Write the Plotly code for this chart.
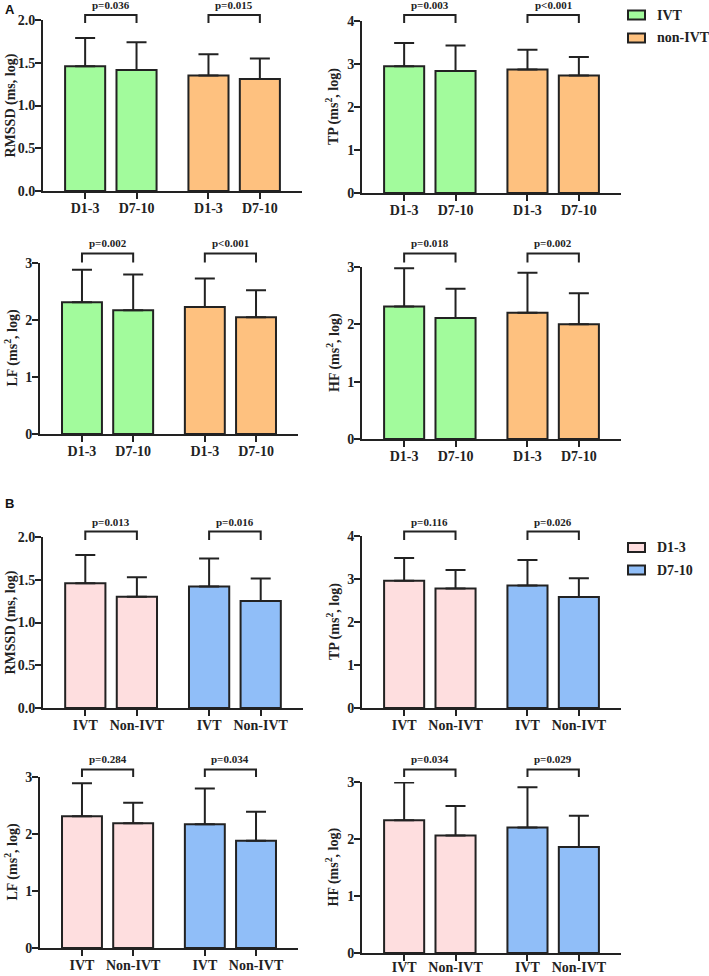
import plotly.graph_objects as go

W, H = 709, 976
SERIF = "Liberation Serif, Times New Roman, serif"
INK = "#222222"

# ---- panel A: IVT vs non-IVT, compared over time ----
a_ticks = ["D1-3", "D7-10"]
a_groups = ["IVT", "non-IVT"]
a_colors = ["#A2FB9C", "#FEC17F"]

a_rmssd_ivt = [1.46, 1.415]
a_rmssd_ivt_sd = [0.33, 0.325]
a_rmssd_non = [1.35, 1.31]
a_rmssd_non_sd = [0.25, 0.24]

a_tp_ivt = [2.95, 2.84]
a_tp_ivt_sd = [0.54, 0.59]
a_tp_non = [2.87, 2.73]
a_tp_non_sd = [0.46, 0.43]

a_lf_ivt = [2.31, 2.17]
a_lf_ivt_sd = [0.57, 0.63]
a_lf_non = [2.23, 2.05]
a_lf_non_sd = [0.50, 0.47]

a_hf_ivt = [2.31, 2.11]
a_hf_ivt_sd = [0.67, 0.51]
a_hf_non = [2.20, 2.00]
a_hf_non_sd = [0.70, 0.54]

a_pvals = [["p=0.036", "p=0.015"], ["p=0.003", "p<0.001"],
           ["p=0.002", "p<0.001"], ["p=0.018", "p=0.002"]]

# ---- panel B: D1-3 vs D7-10, compared between groups ----
b_ticks = ["IVT", "Non-IVT"]
b_groups = ["D1-3", "D7-10"]
b_colors = ["#FEDEDF", "#90BEF8"]

b_rmssd_d13 = [1.46, 1.30]
b_rmssd_d13_sd = [0.33, 0.23]
b_rmssd_d710 = [1.42, 1.25]
b_rmssd_d710_sd = [0.33, 0.265]

b_tp_d13 = [2.96, 2.78]
b_tp_d13_sd = [0.53, 0.43]
b_tp_d710 = [2.85, 2.58]
b_tp_d710_sd = [0.59, 0.44]

b_lf_d13 = [2.31, 2.19]
b_lf_d13_sd = [0.58, 0.36]
b_lf_d710 = [2.17, 1.88]
b_lf_d710_sd = [0.63, 0.51]

b_hf_d13 = [2.33, 2.06]
b_hf_d13_sd = [0.66, 0.52]
b_hf_d710 = [2.20, 1.86]
b_hf_d710_sd = [0.71, 0.55]

b_pvals = [["p=0.013", "p=0.016"], ["p=0.116", "p=0.026"],
           ["p=0.284", "p=0.034"], ["p=0.034", "p=0.029"]]

y_titles = ["RMSSD (ms, log)", "TP (ms<sup>2</sup>, log)",
            "LF (ms<sup>2</sup>, log)", "HF (ms<sup>2</sup>, log)"]
y_max = [2, 4, 3, 3]
y_dtick = [0.5, 1, 1, 1]
y_fmt = [".1f", "d", "d", "d"]

# subplot boxes in pixels: left, right, top, zero-line
boxes = [
    (43, 302, 20, 191), (362, 621, 21, 193),
    (40, 298, 263, 434), (362, 621, 267, 439),
    (43, 303, 537, 708), (362, 621, 536, 708),
    (40, 298, 777, 948), (362, 621, 782, 953),
]
# bracket rows (pixels): text centre, horizontal line, leg end
bracket_rows = [(5, 15, 23), (243, 253.5, 262.5), (521.5, 531.5, 540), (759, 769.5, 777)]
title_x = [10, 333, 12, 333]
legend_rows = [(15, 38), (547.5, 570)]

GAP = 2.4  # offset of second group on the x axis
BAR_W = 0.78

panels = [
    (a_ticks, a_groups, a_colors, [
        (a_rmssd_ivt, a_rmssd_ivt_sd, a_rmssd_non, a_rmssd_non_sd),
        (a_tp_ivt, a_tp_ivt_sd, a_tp_non, a_tp_non_sd),
        (a_lf_ivt, a_lf_ivt_sd, a_lf_non, a_lf_non_sd),
        (a_hf_ivt, a_hf_ivt_sd, a_hf_non, a_hf_non_sd),
    ], a_pvals),
    (b_ticks, b_groups, b_colors, [
        (b_rmssd_d13, b_rmssd_d13_sd, b_rmssd_d710, b_rmssd_d710_sd),
        (b_tp_d13, b_tp_d13_sd, b_tp_d710, b_tp_d710_sd),
        (b_lf_d13, b_lf_d13_sd, b_lf_d710, b_lf_d710_sd),
        (b_hf_d13, b_hf_d13_sd, b_hf_d710, b_hf_d710_sd),
    ], b_pvals),
]

fig = go.Figure()
layout = {}
shapes = []
annotations = []

for p, (ticks, groups, colors, measures, pvals) in enumerate(panels):
    for m, series in enumerate(measures):
        k = p * 4 + m + 1
        xid = "x" if k == 1 else f"x{k}"
        yid = "y" if k == 1 else f"y{k}"
        left, right, top, zero = boxes[k - 1]
        row = p * 2 + m // 2

        for g in range(2):
            means = series[g * 2]
            sds = series[g * 2 + 1]
            xs = [g * GAP + i for i in range(len(means))]
            fig.add_trace(go.Bar(
                x=xs, y=means, width=BAR_W, name=groups[g],
                marker=dict(color=colors[g], line=dict(color=INK, width=2)),
                error_y=dict(type="data", symmetric=False, array=sds,
                             arrayminus=[0] * len(sds), color=INK,
                             thickness=2, width=10),
                xaxis=xid, yaxis=yid, showlegend=False, cliponaxis=False,
            ))

            # significance bracket over the pair
            t_y, h_y, e_y = bracket_rows[row]
            yh = 1 - h_y / H
            ye = 1 - e_y / H
            shapes.append(dict(
                type="path", xref=xid, yref="paper",
                path=f"M {xs[0]},{ye} L {xs[0]},{yh} L {xs[1]},{yh} L {xs[1]},{ye}",
                line=dict(color=INK, width=2),
            ))
            annotations.append(dict(
                x=(xs[0] + xs[1]) / 2, y=1 - t_y / H, xref=xid, yref="paper",
                text=pvals[m][g], showarrow=False, yanchor="middle",
                font=dict(family=SERIF, size=11, color=INK, weight=700),
            ))

        tickvals = [g * GAP + i for g in range(2) for i in range(2)]
        layout[xid.replace("x", "xaxis")] = dict(
            domain=[left / W, right / W], anchor=yid, automargin=False,
            range=[-0.82, GAP + 1 + 0.82], tickvals=tickvals,
            ticktext=ticks * 2, ticks="outside", ticklen=6, tickwidth=2,
            tickcolor=INK, showline=True, linewidth=2, linecolor=INK,
            showgrid=False, zeroline=False,
            # the last row sits on the page edge, pull its labels in a little
            ticklabelstandoff=-6 if k == 8 else -3,
            tickfont=dict(family=SERIF, size=14, color=INK, weight=700),
        )
        layout[yid.replace("y", "yaxis")] = dict(
            domain=[1 - zero / H, 1 - top / H], anchor=xid, automargin=False,
            range=[0, y_max[m]], dtick=y_dtick[m], tickformat=y_fmt[m],
            ticks="outside", ticklen=6, tickwidth=2, tickcolor=INK,
            showline=True, linewidth=2, linecolor=INK,
            showgrid=False, zeroline=False, ticklabelstandoff=-3,
            tickfont=dict(family=SERIF, size=14, color=INK, weight=700),
        )
        annotations.append(dict(
            x=title_x[m] / W, y=1 - (top + zero) / 2 / H,
            xref="paper", yref="paper", text=y_titles[m], textangle=-90,
            showarrow=False, xanchor="center", yanchor="middle",
            font=dict(family=SERIF, size=14, color=INK, weight=700),
        ))

    # legend for the panel, drawn as boxes + labels
    for g in range(2):
        cy = legend_rows[p][g]
        shapes.append(dict(
            type="rect", xref="paper", yref="paper",
            x0=628 / W, x1=645 / W, y0=1 - (cy + 4.5) / H, y1=1 - (cy - 4.5) / H,
            fillcolor=colors[g], line=dict(color=INK, width=2),
        ))
        annotations.append(dict(
            x=655 / W, y=1 - cy / H, xref="paper", yref="paper",
            text=groups[g], showarrow=False, xanchor="left", yanchor="middle",
            font=dict(family=SERIF, size=14, color=INK, weight=700),
        ))

# panel letters
for letter, py in [("A", 10), ("B", 503)]:
    annotations.append(dict(
        x=3 / W, y=1 - py / H, xref="paper", yref="paper", text=letter,
        showarrow=False, xanchor="left", yanchor="middle",
        font=dict(family="Liberation Sans, Arial, sans-serif", size=13,
                  color="#111111", weight=700),
    ))

fig.update_layout(
    template="none",
    width=W, height=H, autosize=False,
    margin=dict(l=0, r=0, t=0, b=0, autoexpand=False),
    paper_bgcolor="white", plot_bgcolor="white",
    font=dict(family=SERIF, color=INK),
    barmode="overlay", showlegend=False,
    shapes=shapes, annotations=annotations,
    **layout,
)

# drop the browser's default page margin so the figure sits at 0,0
fig.write_html("out.html", config={"displayModeBar": False},
               post_script="document.body.style.margin = '0';")
